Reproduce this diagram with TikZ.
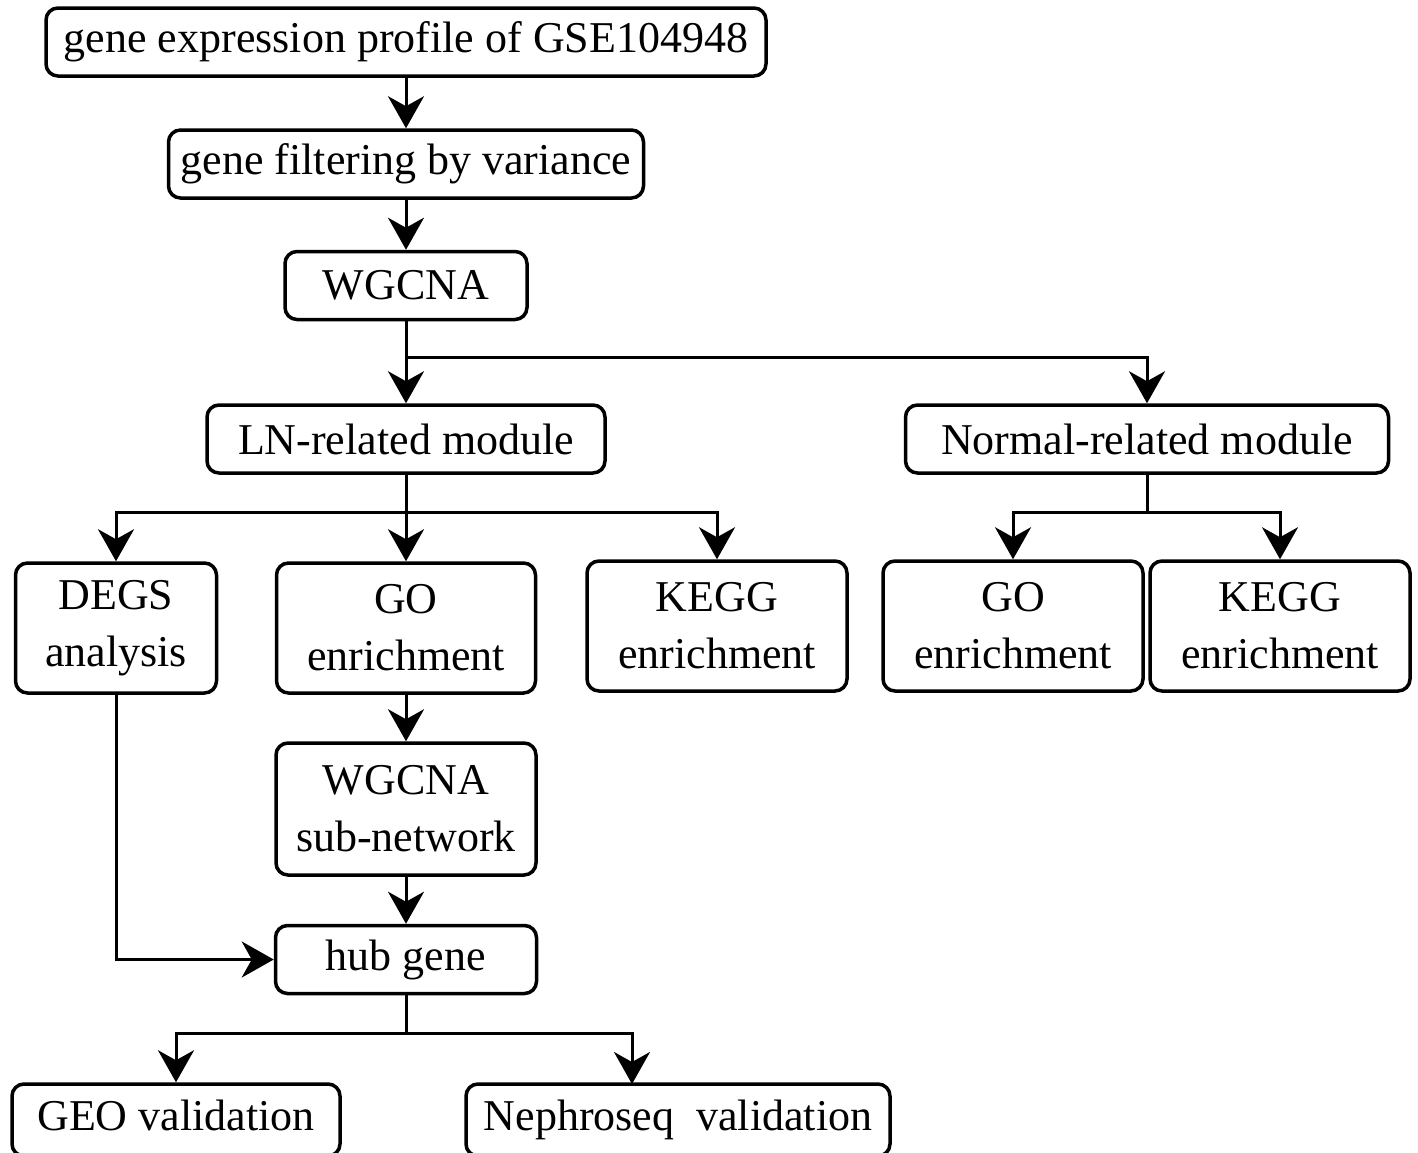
\documentclass[tikz,border=0pt]{standalone}
\usepackage{fontspec}
\setmainfont{Liberation Serif}
\usetikzlibrary{arrows.meta, positioning}

\begin{document}
\begin{tikzpicture}[x=1pt,y=-1pt, every node/.style={font=\fontsize{44}{57}\selectfont},
    box/.style={draw, line width=3.5pt, rounded corners=12pt, align=center, inner sep=0pt, minimum height=68pt},
    tallbox/.style={box, minimum height=130pt},
    valbox/.style={box, minimum height=72pt, text height=32pt, text depth=12pt},
    link/.style={line width=3pt},
    arr/.style={link, -{Stealth[length=32pt, width=36pt, inset=10pt]}}]

    \useasboundingbox (0,0) rectangle (1418,1152);

    \node[box, minimum width=720pt] (expr) at (406,42) {gene expression profile of GSE104948};
    \node[box, minimum width=475pt] (filter) at (406,164) {gene filtering by variance};
    \node[box, minimum width=242pt] (wgcna) at (406,285.5) {WGCNA};

    \node[box, minimum width=398pt] (lnmod) at (406,439) {LN-related module};
    \node[box, minimum width=483pt] (normod) at (1147,439) {Normal-related module};

    \node[tallbox, minimum width=201pt] (degs) at (116,628) {DEGS\\analysis};
    \node[tallbox, minimum width=259pt] (goln) at (406,628) {GO\\enrichment};
    \node[tallbox, minimum width=260pt] (kegln) at (717,626) {KEGG\\enrichment};
    \node[tallbox, minimum width=260pt] (gonor) at (1013,626) {GO\\enrichment};
    \node[tallbox, minimum width=260pt] (kegnor) at (1280,626) {KEGG\\enrichment};

    \node[tallbox, minimum width=260pt, minimum height=132pt] (subnet) at (406,809) {WGCNA\\sub-network};
    \node[box, minimum width=261pt] (hub) at (406,959.5) {hub gene};

    \node[valbox, minimum width=328pt] (geo) at (176,1120) {GEO validation};
    \node[valbox, minimum width=424pt] (nephro) at (678,1120) {Nephroseq\ \ validation};

    \coordinate (wsplit) at (406,357);
    \coordinate (lnsplit) at (406,512);
    \coordinate (norsplit) at (1147,512);
    \coordinate (hubsplit) at (406,1033);
    \coordinate (nephin) at (632,1084);

    \draw[arr] (expr) -- (filter);
    \draw[arr] (filter) -- (wgcna);

    \draw[link] (wgcna) -- (wsplit);
    \draw[arr] (wsplit) -- (lnmod);
    \draw[arr] (wsplit) -| (normod);

    \draw[link] (lnmod) -- (lnsplit);
    \foreach \n in {degs, goln, kegln} \draw[arr] (lnsplit) -| (\n);

    \draw[link] (normod) -- (norsplit);
    \foreach \n in {gonor, kegnor} \draw[arr] (norsplit) -| (\n);

    \draw[arr] (goln) -- (subnet);
    \draw[arr] (subnet) -- (hub);
    \draw[arr] (degs) |- (hub);

    \draw[link] (hub) -- (hubsplit);
    \draw[arr] (hubsplit) -| (geo);
    \draw[arr] (hubsplit) -| (nephin);

\end{tikzpicture}
\end{document}
